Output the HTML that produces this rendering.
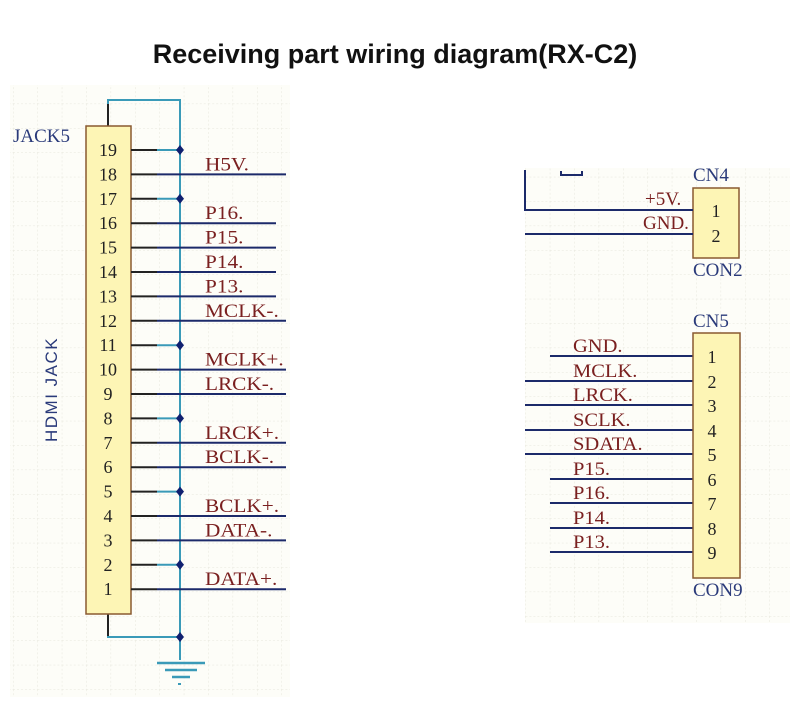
<!DOCTYPE html>
<html><head><meta charset="utf-8"><style>
html,body{margin:0;padding:0;background:#fff;}
svg{display:block;}
.t{font-family:"Liberation Serif",serif;font-size:19px;}
.lbl{fill:#7a2020;}
.num{fill:#222;font-size:18px;}
.blue{fill:#2a3a7a;}
</style></head><body>
<svg width="800" height="705" viewBox="0 0 800 705" xmlns="http://www.w3.org/2000/svg">
<defs>
<pattern id="g" width="24.4" height="24.4" patternUnits="userSpaceOnUse" x="13" y="6">
<path d="M0 0H24.4M0 0V24.4" stroke="#e6e6dc" stroke-width="1" stroke-dasharray="2 2" fill="none"/>
</pattern>
</defs>
<rect width="800" height="705" fill="#fff"/>
<rect x="10" y="85" width="280" height="612" fill="#fdfdf8"/>
<rect x="10" y="85" width="280" height="612" fill="url(#g)"/>
<rect x="525" y="168" width="265" height="455" fill="#fdfdf8"/>
<rect x="525" y="168" width="265" height="455" fill="url(#g)"/>

<text x="395" y="63" text-anchor="middle" font-family="Liberation Sans,sans-serif" font-weight="bold" font-size="27" fill="#111">Receiving part wiring diagram(RX-C2)</text>

<g fill="none" stroke-width="2">
<path d="M108 126V100H180V660" stroke="#3a9ab8"/>
<path d="M108 614V637H180" stroke="#3a9ab8"/>
<path d="M108 126V104" stroke="#222"/>
<path d="M108 614V636" stroke="#222"/>
<path d="M157 663H205M165 670H197M172 677H190" stroke="#3a9ab8" stroke-width="2.5"/>
</g>
<rect x="178" y="683" width="3" height="2" fill="#3a9ab8"/>

<rect x="86" y="126" width="45" height="488" fill="#fdf5b5" stroke="#8a5a30" stroke-width="1.5"/>
<text x="13" y="142" class="t blue" font-size="17">JACK5</text>
<text transform="translate(57,442) rotate(-90)" font-family="Liberation Sans,sans-serif" font-size="17" fill="#2a3a7a" letter-spacing="1.5">HDMI JACK</text>

<g id="pins"></g>
<script>
(function(){
var ns="http://www.w3.org/2000/svg",g=document.getElementById('pins');
function el(n,a,t){var e=document.createElementNS(ns,n);for(var k in a)e.setAttribute(k,a[k]);if(t)e.textContent=t;g.appendChild(e);return e;}
var gnd=[19,17,11,8,5,2];
var ends={16:276,15:276,14:276,13:276};
var labels={18:"H5V.",16:"P16.",15:"P15.",14:"P14.",13:"P13.",12:"MCLK-.",10:"MCLK+.",9:"LRCK-.",7:"LRCK+.",6:"BCLK-.",4:"BCLK+.",3:"DATA-.",1:"DATA+."};
for(var p=19;p>=1;p--){
 var y=150+(19-p)*24.4;
 el('text',{x:108,y:y+6,'text-anchor':'middle','class':'t num'},String(p));
 if(gnd.indexOf(p)>=0){
  el('line',{x1:131,y1:y,x2:157,y2:y,stroke:'#222','stroke-width':2});
  el('line',{x1:157,y1:y,x2:180,y2:y,stroke:'#3a9ab8','stroke-width':2});
  el('path',{d:'M180 '+(y-5)+'L184 '+y+'L180 '+(y+5)+'L176 '+y+'Z',fill:'#102070'});
 } else {
  el('line',{x1:131,y1:y,x2:157,y2:y,stroke:'#222','stroke-width':2});
  el('line',{x1:157,y1:y,x2:(ends[p]||286),y2:y,stroke:'#1c2a6a','stroke-width':2});
 }
 if(labels[p]) el('text',{x:0,y:0,'class':'t lbl',transform:'translate(205,'+(y-4)+') scale(1.12,1)'},labels[p]);
}
el('path',{d:'M180 632L184 637L180 642L176 637Z',fill:'#102070'});
var l5=["GND.","MCLK.","LRCK.","SCLK.","SDATA.","P15.","P16.","P14.","P13."];
var st=[550,525,525,525,525,550,550,550,550];
var ys=[356,381,405,430,454,479,503,528,552];
for(var i=0;i<9;i++){
 el('line',{x1:st[i],y1:ys[i],x2:693,y2:ys[i],stroke:'#1c2a6a','stroke-width':2});
 el('text',{x:0,y:0,'class':'t lbl',transform:'translate(573,'+(ys[i]-4)+') scale(1.08,1)'},l5[i]);
}
})();
</script>

<rect x="693" y="188" width="46" height="70" fill="#fdf5b5" stroke="#8a5a30" stroke-width="1.5"/>
<path d="M525 170V210H693M525 234H693" fill="none" stroke="#1c2a6a" stroke-width="2"/>
<path d="M561 171V175H582V171" fill="none" stroke="#1c2a6a" stroke-width="2"/>
<text x="645" y="205" class="t lbl">+5V.</text>
<text x="643" y="229" class="t lbl">GND.</text>
<text x="716" y="217" text-anchor="middle" class="t num">1</text>
<text x="716" y="242" text-anchor="middle" class="t num">2</text>
<text x="693" y="181" class="t blue" font-size="17">CN4</text>
<rect x="690" y="160" width="60" height="8" fill="#fff"/>
<text x="693" y="276" class="t blue" font-size="17">CON2</text>

<rect x="693" y="333" width="47" height="245" fill="#fdf5b5" stroke="#8a5a30" stroke-width="1.5"/>
<text x="693" y="327" class="t blue" font-size="17">CN5</text>
<text x="693" y="596" class="t blue" font-size="17">CON9</text>
<g class="t num" text-anchor="middle">
<text x="712" y="363">1</text><text x="712" y="388">2</text><text x="712" y="412">3</text>
<text x="712" y="437">4</text><text x="712" y="461">5</text><text x="712" y="486">6</text>
<text x="712" y="510">7</text><text x="712" y="535">8</text><text x="712" y="559">9</text>
</g>
</svg>
</body></html>
